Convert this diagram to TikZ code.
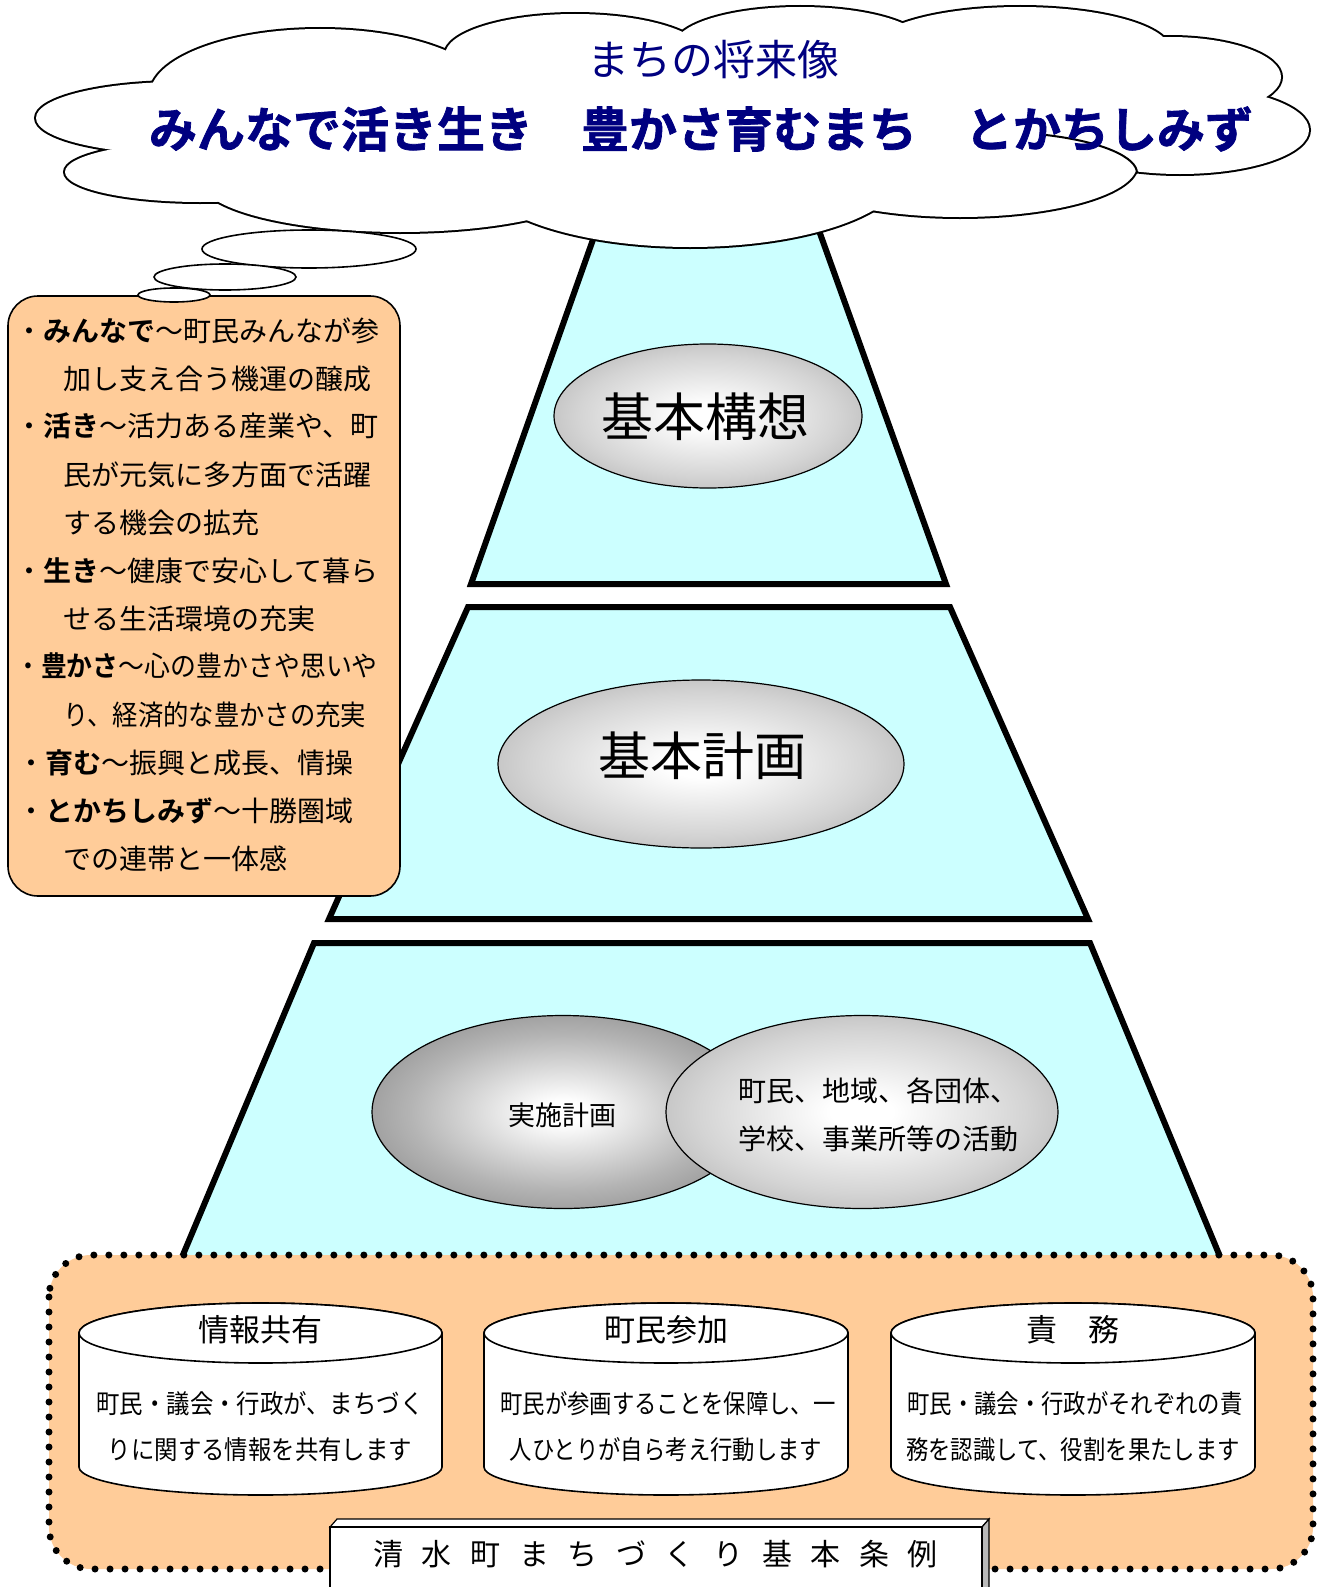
\documentclass[tikz,border=0pt]{standalone}
\usepackage{fontspec}
\usepackage{graphicx}
\usetikzlibrary{shapes.geometric}
\newfontfamily\jp{Noto Sans CJK JP}
\newfontfamily\jpb{Noto Sans CJK JP Bold}
\newfontfamily\jph[FakeBold=1.5]{Noto Sans CJK JP Bold}
\definecolor{navy}{HTML}{000080}
\definecolor{cyanfill}{HTML}{CCFFFF}
\definecolor{peach}{HTML}{FFCC99}
\definecolor{midA}{HTML}{B4B4B4}
\definecolor{edgeA}{HTML}{7E7E7E}
\definecolor{midB}{HTML}{D4D4D4}
\definecolor{edgeB}{HTML}{A8A8A8}
\pgfdeclareradialshading{ballA}{\pgfpoint{0bp}{0bp}}{color(0bp)=(white); color(3bp)=(white); color(20bp)=(midA); color(35bp)=(edgeA); color(50bp)=(edgeA)}
\pgfdeclareradialshading{ballB}{\pgfpoint{0bp}{0bp}}{color(0bp)=(white); color(4bp)=(white); color(21bp)=(midB); color(35bp)=(edgeB); color(50bp)=(edgeB)}
\newcommand{\fs}[1]{\fontsize{#1}{#1}\selectfont}
\newcommand{\cb}[1]{\makebox[48.6pt]{#1}}
\begin{document}
\begin{tikzpicture}[x=1pt,y=-1pt,
  tier/.style={draw=black, line width=6pt, fill=cyanfill, line join=miter},
  lobe/.style={draw=black, line width=4pt},
  thought/.style={draw=black, line width=1.6pt, fill=white},
  ball/.style={ellipse, draw=black, line width=1.2pt, shade, inner sep=0pt},
  boxline/.style={anchor=west, inner sep=0pt, font=\jp\fs{28}},
  cyl/.style={draw=black, line width=1.6pt, fill=white},
  cyltitle/.style={font=\jp\fs{31}, inner sep=0pt},
  cyltext/.style={font=\jp\fs{26}, inner sep=0pt}]
\useasboundingbox (0,0) rectangle (1317,1587);

% pyramid tiers
\draw[tier] (607,200) -- (808,200) -- (946,584) -- (471,584) -- cycle;
\draw[tier] (468,607) -- (950,607) -- (1088,919) -- (329,919) -- cycle;
\draw[tier] (314,943) -- (1090,943) -- (1238,1300) -- (164,1300) -- cycle;

% shaded ellipses
\node[ball, shading=ballB, minimum width=308pt, minimum height=144pt] (kousou) at (708,416) {};
\node[font=\jp\fs{52}] (kousoutxt) at (705,417) {基本構想};
\node[ball, shading=ballB, minimum width=406pt, minimum height=168pt] (keikaku) at (701,764) {};
\node[font=\jp\fs{52}] (keikakutxt) at (702,756) {基本計画};
\node[ball, shading=ballA, minimum width=382pt, minimum height=193pt] (jisshi) at (563,1112) {};
\node[font=\jp\fs{27}] (jisshitxt) at (562,1115) {実施計画};
\node[ball, shading=ballB, minimum width=392pt, minimum height=193pt] (katsudou) at (862,1112) {};
\node[font=\jp\fs{28}] (kat1) at (878,1091) {町民、地域、各団体、};
\node[font=\jp\fs{28}] (kat2) at (878,1139) {学校、事業所等の活動};

% cloud
\foreach \cx/\cy/\rx/\ry in {320/95/170/66, 180/118/144/36, 200/172/135/30, 400/180/200/52,
  690/170/215/77, 960/165/177/52, 1180/130/129/44, 1170/77/111/40, 1020/50/150/43,
  800/45/125/38, 575/55/130/41}
  {\draw[lobe] (\cx,\cy) ellipse [x radius=\rx pt, y radius=\ry pt];}
\foreach \cx/\cy/\rx/\ry in {320/95/170/66, 180/118/144/36, 200/172/135/30, 400/180/200/52,
  690/170/215/77, 960/165/177/52, 1180/130/129/44, 1170/77/111/40, 1020/50/150/43,
  800/45/125/38, 575/55/130/41, 680/130/470/80}
  {\fill[white] (\cx,\cy) ellipse [x radius=\rx pt, y radius=\ry pt];}
\coordinate (arcA) at (1046,135);
\coordinate (arcB) at (1137,173);
\draw[line width=2pt] (arcA) .. controls (1105,142) and (1137,158) .. (arcB);
\node[font=\jp\fs{42}, text=navy] (sub) at (713,60) {まちの将来像};
\node[font=\jph\fs{48}, text=navy] (title) at (701,129) {みんなで活き生き　豊かさ育むまち　とかちしみず};

% left text box
\draw[fill=peach, draw=black, line width=1.6pt, rounded corners=30pt] (8,296) rectangle (400,896);
\node[boxline] (l1) at (15,331) {・{\jpb みんなで}～町民みんなが参};
\node[boxline] (l2) at (63,379) {加し支え合う機運の醸成};
\node[boxline] (l3) at (15,426) {・{\jpb 活き}～活力ある産業や、町};
\node[boxline] (l4) at (63,475) {民が元気に多方面で活躍};
\node[boxline] (l5) at (63,523) {する機会の拡充};
\node[boxline] (l6) at (15,571) {・{\jpb 生き}～健康で安心して暮ら};
\node[boxline] (l7) at (63,619) {せる生活環境の充実};
\node[boxline] (l8) at (15,666) {\scalebox{0.925}[1]{・{\jpb 豊かさ}～心の豊かさや思いや}};
\node[boxline] (l9) at (63,715) {\scalebox{0.905}[1]{り、経済的な豊かさの充実}};
\node[boxline] (l10) at (17,763) {・{\jpb 育む}～振興と成長、情操};
\node[boxline] (l11) at (17,811) {・{\jpb とかちしみず}～十勝圏域};
\node[boxline] (l12) at (63,859) {での連帯と一体感};

% thought bubbles
\draw[thought] (309,249) ellipse [x radius=107pt, y radius=19pt];
\draw[thought] (225,277) ellipse [x radius=71pt, y radius=13pt];
\draw[thought] (174,295) ellipse [x radius=36pt, y radius=7pt];

% bottom dotted box
\draw[fill=peach, draw=black, line width=7pt, dash pattern=on 0pt off 15pt, line cap=round, rounded corners=42pt] (49,1255) rectangle (1313,1569);

% cylinders
\draw[cyl] (79,1333) -- (79,1467) arc[start angle=180, end angle=360, x radius=181.5pt, y radius=28pt] -- (442,1333) arc[start angle=0, end angle=180, x radius=181.5pt, y radius=30pt] -- cycle;
\draw[cyl] (260.5,1333) ellipse [x radius=181.5pt, y radius=30pt];
\draw[cyl] (484,1333) -- (484,1467) arc[start angle=180, end angle=360, x radius=182pt, y radius=28pt] -- (848,1333) arc[start angle=0, end angle=180, x radius=182pt, y radius=30pt] -- cycle;
\draw[cyl] (666,1333) ellipse [x radius=182pt, y radius=30pt];
\draw[cyl] (891,1333) -- (891,1467) arc[start angle=180, end angle=360, x radius=182pt, y radius=28pt] -- (1255,1333) arc[start angle=0, end angle=180, x radius=182pt, y radius=30pt] -- cycle;
\draw[cyl] (1073,1333) ellipse [x radius=182pt, y radius=30pt];

\node[cyltitle] (c1t) at (260,1330) {情報共有};
\node[cyltext] (c1a) at (260,1404) {\scalebox{0.9}[1]{町民・議会・行政が、まちづく}};
\node[cyltext] (c1b) at (260,1450) {\scalebox{0.9}[1]{りに関する情報を共有します}};
\node[cyltitle] (c2t) at (666,1330) {町民参加};
\node[cyltext] (c2a) at (668,1404) {\scalebox{0.86}[1]{町民が参画することを保障し、一}};
\node[cyltext] (c2b) at (666,1450) {\scalebox{0.86}[1]{人ひとりが自ら考え行動します}};
\node[cyltitle] (c3t) at (1073,1330) {責　務};
\node[cyltext] (c3a) at (1075,1404) {\scalebox{0.86}[1]{町民・議会・行政がそれぞれの責}};
\node[cyltext] (c3b) at (1073,1450) {\scalebox{0.86}[1]{務を認識して、役割を果たします}};

% title bar with bevel
\draw[fill=white, line width=1.2pt] (330,1527) -- (337,1519) -- (989,1519) -- (982,1527) -- cycle;
\draw[fill=gray!55, line width=1.2pt] (982,1527) -- (989,1519) -- (989,1600) -- (982,1600) -- cycle;
\draw[fill=white, line width=1.6pt] (330,1527) rectangle (982,1600);
\node[font=\jp\fs{30}, inner sep=0pt] (jourei) at (655.5,1554) {%
\cb{清}\cb{水}\cb{町}\cb{ま}\cb{ち}\cb{づ}\cb{く}\cb{り}\cb{基}\cb{本}\cb{条}\cb{例}};
\end{tikzpicture}
\end{document}
